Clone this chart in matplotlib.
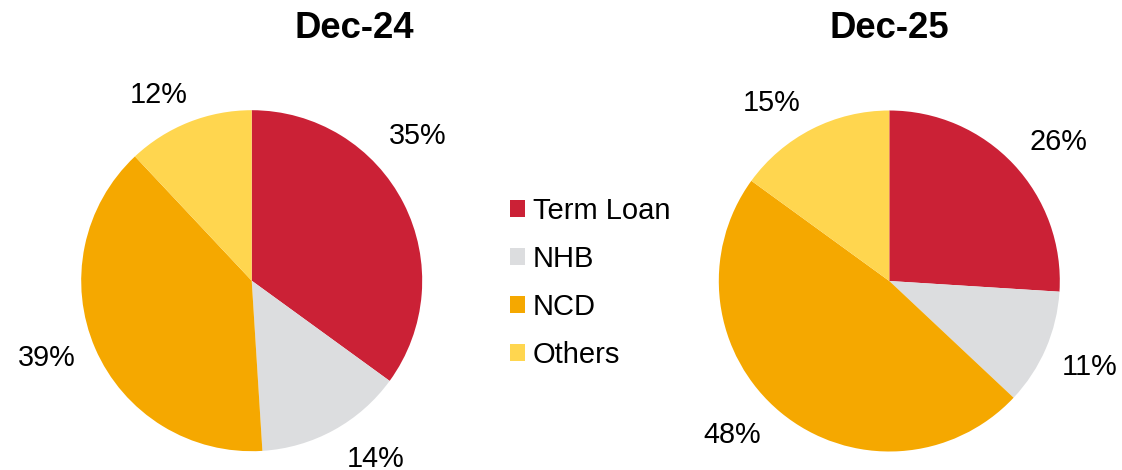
import matplotlib.pyplot as plt
from matplotlib.patches import Patch

plt.rcParams["font.family"] = ["Liberation Sans", "DejaVu Sans"]

# data
categories = ["Term Loan", "NHB", "NCD", "Others"]
periods = ["Dec-24", "Dec-25"]
share_dec24 = [35, 14, 39, 12]
share_dec25 = [26, 11, 48, 15]
colors = ["#CB2136", "#DCDDDF", "#F5A800", "#FFD64F"]

# label spots around each pie (in pie radius units)
label_pos = [
    [(0.974, 0.849), (0.729, -1.046), (-1.202, -0.452), (-0.545, 1.089)],
    [(0.991, 0.817), (1.177, -0.503), (-0.921, -0.903), (-0.690, 1.046)],
]

W, H = 1122, 470
fig = plt.figure(figsize=(W / 100, H / 100), dpi=100)

R = 170.5
centers = [(251.7, 280.7), (889.3, 281.0)]
title_x = [354, 889.7]

for i, vals in enumerate([share_dec24, share_dec25]):
    cx, cy = centers[i]
    ax = fig.add_axes([(cx - R) / W, (H - cy - R) / H, 2 * R / W, 2 * R / H])
    ax.pie(vals, colors=colors, startangle=90, counterclock=False,
           wedgeprops=dict(linewidth=0))
    ax.set_xlim(-1, 1)
    ax.set_ylim(-1, 1)
    ax.set_aspect("equal")
    ax.axis("off")
    for v, (x, y) in zip(vals, label_pos[i]):
        ax.text(x, y, f"{v}%", fontsize=20.8, ha="center", va="center",
                color="#000000")
    fig.text(title_x[i] / W, 1 - 28.5 / H, periods[i], fontsize=26.3,
             fontweight="bold", ha="center", va="center")

handles = [Patch(facecolor=c, edgecolor="none") for c in colors]
fig.legend(handles, categories, loc="center left",
           bbox_to_anchor=(510 / W, 1 - 283 / H), frameon=False,
           fontsize=21, handlelength=0.52, handleheight=0.52,
           handletextpad=0.27, labelspacing=0.69, borderpad=0,
           borderaxespad=0)

fig.savefig("out.png", dpi=100)
